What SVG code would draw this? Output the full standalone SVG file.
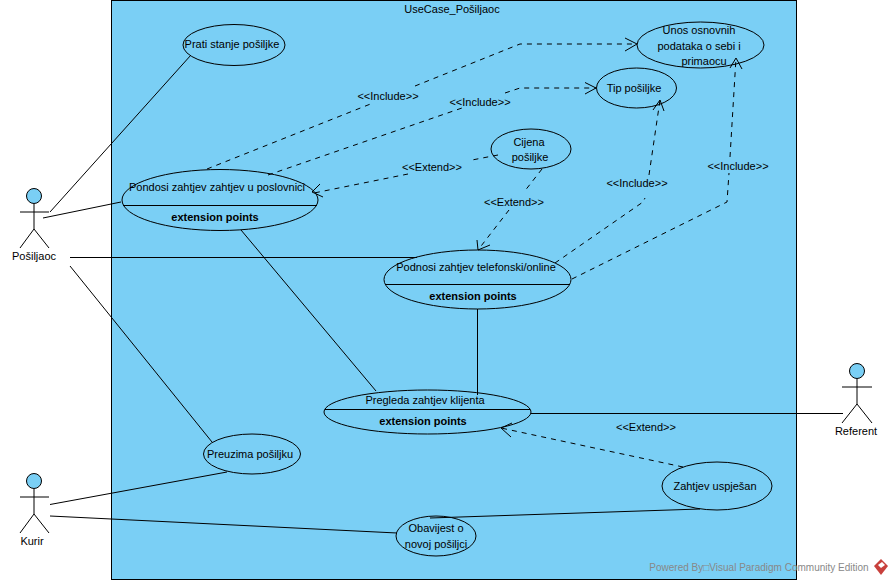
<svg xmlns="http://www.w3.org/2000/svg" width="893" height="584" viewBox="0 0 893 584">
<style>
text{font-family:"Liberation Sans",Arial,sans-serif;font-size:11px;fill:#000;text-anchor:middle}
.b{font-weight:bold}
.u{fill:#7acff5;stroke:#000;stroke-width:1}
.l{fill:none;stroke:#000;stroke-width:1}
.d{fill:none;stroke:#000;stroke-width:1;stroke-dasharray:5 5}
.a{fill:none;stroke:#000;stroke-width:1}
.w{fill:#888;font-size:10px}
</style>
<rect width="893" height="584" fill="#fff"/>
<g id="system"><rect class="u" x="111.500" y="0.500" width="685" height="579"/><text x="452" y="13">UseCase_Pošiljaoc</text></g>
<g id="prati"><ellipse class="u" cx="234" cy="45" rx="51" ry="20.500"/><text x="232" y="48">Prati stanje pošiljke</text></g>
<g id="unos"><ellipse class="u" cx="700.500" cy="45" rx="63.500" ry="23"/><text x="699" y="34">Unos osnovnih</text><text x="699" y="50">podataka o sebi i</text><text x="704" y="65">primaocu</text></g>
<g id="tip"><ellipse class="u" cx="636.500" cy="88" rx="40" ry="20"/><text x="634" y="92">Tip pošiljke</text></g>
<g id="cijena"><ellipse class="u" cx="531" cy="149" rx="40" ry="20"/><text x="529" y="146">Cijena</text><text x="530" y="161">pošiljke</text></g>
<g id="pondosi"><ellipse class="u" cx="220" cy="200" rx="98" ry="30.500"/><path class="l" d="M123 205.500H317"/><text x="217" y="191">Pondosi zahtjev zahtjev u poslovnici</text><text class="b" x="215" y="221">extension points</text></g>
<g id="podnosi"><ellipse class="u" cx="477.500" cy="279.500" rx="93.500" ry="29.500"/><path class="l" d="M385 284.500H570"/><text x="476" y="271">Podnosi zahtjev telefonski/online</text><text class="b" x="473" y="300">extension points</text></g>
<g id="pregleda"><ellipse class="u" cx="427.500" cy="412" rx="103.500" ry="22"/><path class="l" d="M325 409.500H530"/><text x="425" y="404">Pregleda zahtjev klijenta</text><text class="b" x="423" y="425">extension points</text></g>
<g id="preuzima"><ellipse class="u" cx="252" cy="454" rx="48.500" ry="20"/><text x="250" y="458">Preuzima pošiljku</text></g>
<g id="zahtjev"><ellipse class="u" cx="717" cy="486" rx="55" ry="24"/><text x="715" y="490">Zahtjev uspješan</text></g>
<g id="obavijest"><ellipse class="u" cx="436" cy="536" rx="40" ry="20"/><text x="436" y="532">Obavijest o</text><text x="436" y="548">novoj pošiljci</text></g>
<g id="posiljaoc"><circle class="u" cx="34" cy="196" r="7.500"/><path class="l" d="M34 204V229M20 212H49M20 248L34 229L49 248"/><text x="34" y="260">Pošiljaoc</text></g>
<g id="kurir"><circle class="u" cx="34" cy="481" r="7.500"/><path class="l" d="M34 489V514M20 497H49M20 533L34 514L49 533"/><text x="32" y="545">Kurir</text></g>
<g id="referent"><circle class="u" cx="857" cy="371" r="7.500"/><path class="l" d="M857 379V404M842 387H872M842 423L857 404L872 423"/><text x="856" y="435">Referent</text></g>
<g id="connectors">
<path class="l" d="M50 212L191 55M43 218L121 202M70 257.500H417M70 266L212 442M241 230L376 391M477.500 309V395M531 413.500H843M50 504.500L227 472M50 516L397 533M430 518L700 509"/>
<path class="d" d="M207 169L373 103M415 86L520 44H637"/>
<path class="a" d="M625 38L637 44L625 51"/>
<path class="d" d="M268 175L462 108M505 93L520 88H596"/>
<path class="a" d="M585 82.500L596 88L585 94"/>
<path class="d" d="M498 155L472 160M408 174L314 193"/>
<path class="a" d="M320 184L312 192L323 197"/>
<path class="d" d="M542 169L524 192M509 210L478 250"/>
<path class="a" d="M477 240L478 250L490 245"/>
<path class="d" d="M555 263L643 202L645 198M649 175L660 100"/>
<path class="a" d="M653 110L660 100L664 111"/>
<path class="d" d="M572 279L727 202L729 173M730 157L736 58"/>
<path class="a" d="M730 68L736 58L742 69"/>
<path class="d" d="M683 467L501 428"/>
<path class="a" d="M512 423L501 428L511 437"/>
<text x="388" y="100">&lt;&lt;Include&gt;&gt;</text>
<text x="480" y="106">&lt;&lt;Include&gt;&gt;</text>
<text x="432" y="171">&lt;&lt;Extend&gt;&gt;</text>
<text x="514" y="206">&lt;&lt;Extend&gt;&gt;</text>
<text x="637" y="187">&lt;&lt;Include&gt;&gt;</text>
<text x="738" y="170">&lt;&lt;Include&gt;&gt;</text>
<text x="646" y="431">&lt;&lt;Extend&gt;&gt;</text>
</g>
<g id="watermark"><text class="w" x="759" y="571">Powered By□Visual Paradigm Community Edition</text>
<path d="M881 559L888 566L881 575L874 566Z" fill="#c8403c"/><path d="M878 565L882 562L885 565L881 568Z" fill="#fff"/></g>
</svg>
